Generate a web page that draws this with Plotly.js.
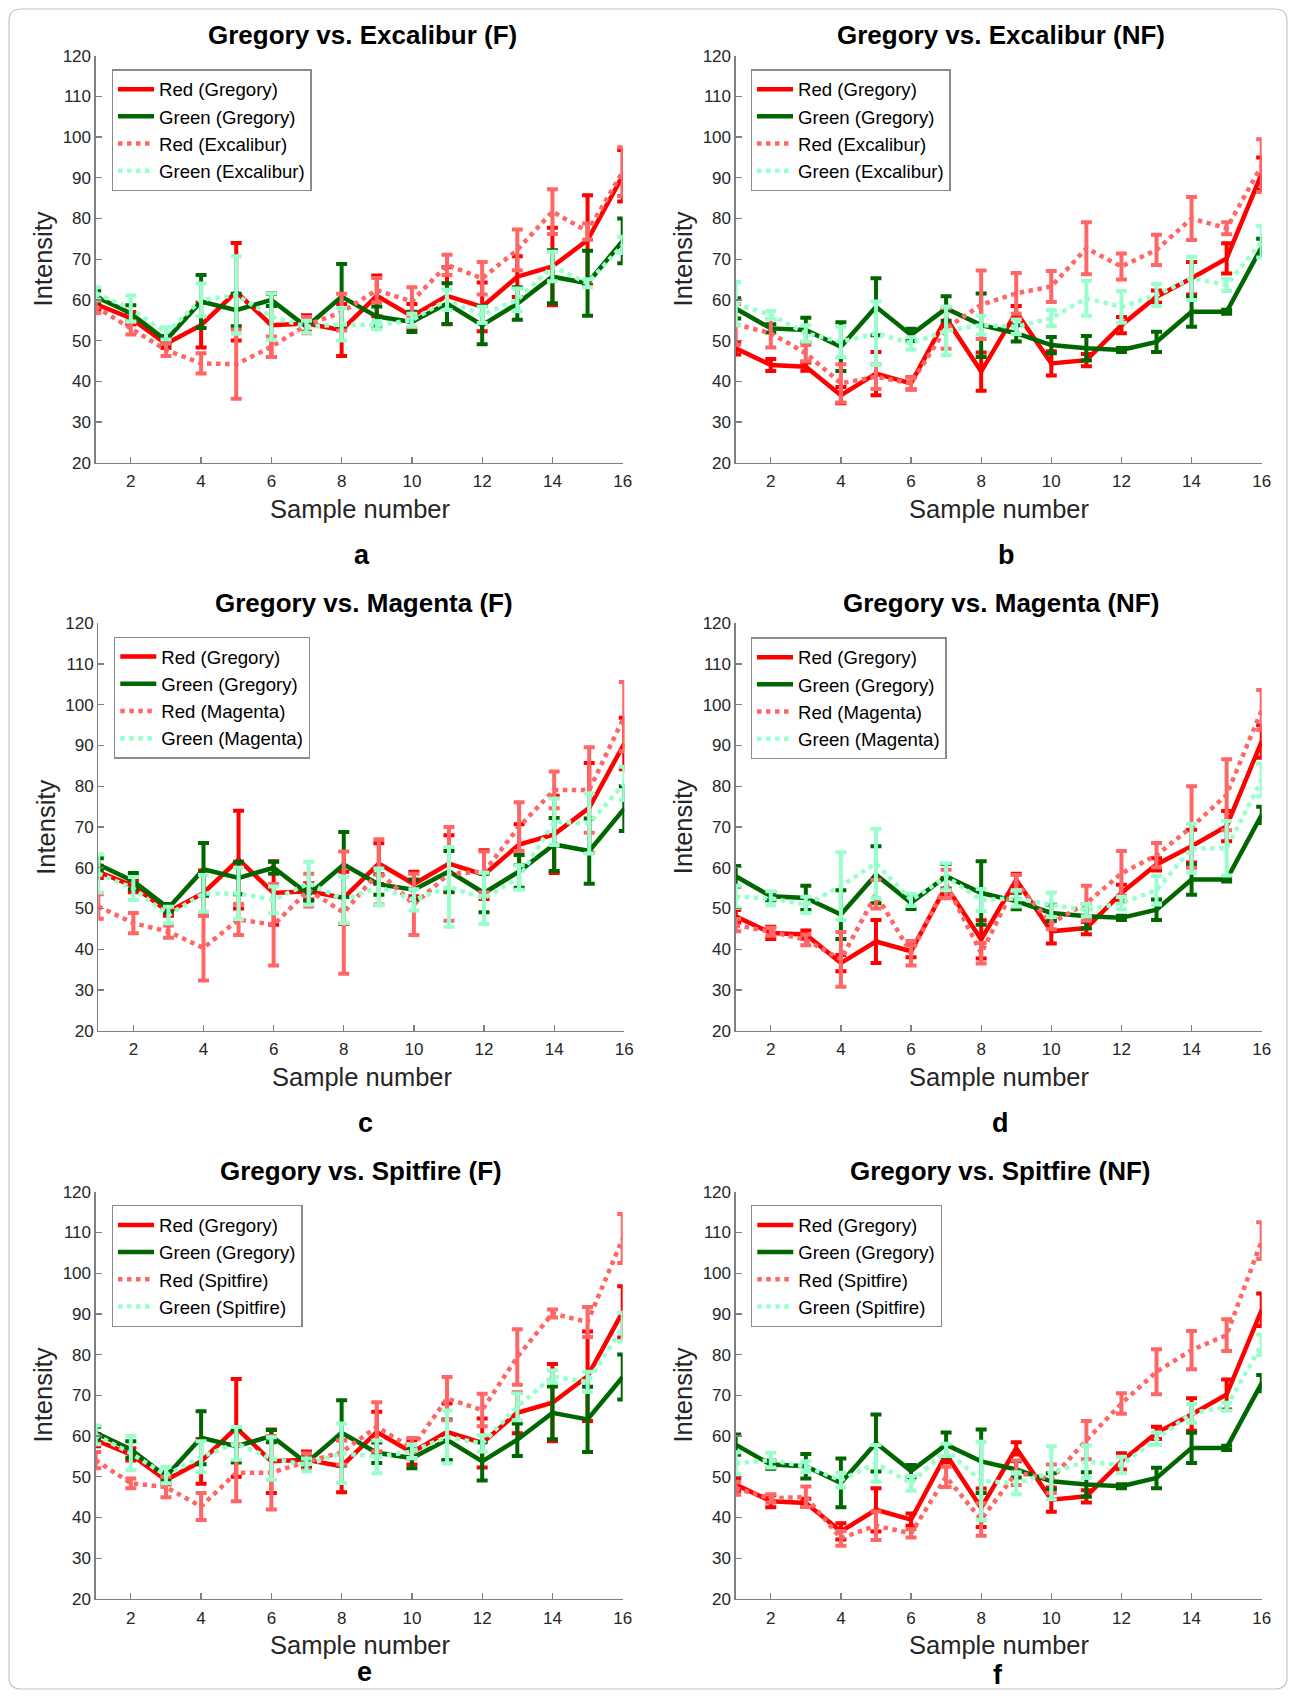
<!DOCTYPE html>
<html>
<head>
<meta charset="utf-8">
<script src="https://cdn.plot.ly/plotly-3.0.1.min.js"></script>
<style>
  html, body { margin: 0; padding: 0; background: #ffffff; }
  #chart { width: 1295px; height: 1696px; }
</style>
</head>
<body>
<div id="chart"></div>
<script>
// Sample numbers shared by every panel
const samples = [1, 2, 3, 4, 5, 6, 7, 8, 9, 10, 11, 12, 13, 14, 15, 16];
const xTicks = [2, 4, 6, 8, 10, 12, 14, 16];
const yTicks = [20, 30, 40, 50, 60, 70, 80, 90, 100, 110, 120];

// Gregory, with filter (F)
const redGregoryF      = [59.0, 55.5, 49.2, 53.8, 62.0, 53.8, 54.2, 52.6, 61.0, 56.0, 61.0, 58.3, 65.7, 68.2, 74.7, 90.5];
const redGregoryFErr   = [1.5, 1.5, 1.0, 5.5, 12.0, 7.8, 2.0, 6.4, 5.0, 3.0, 7.0, 6.0, 5.0, 9.5, 11.0, 6.3];
const greenGregoryF    = [60.8, 56.7, 50.1, 59.6, 57.5, 60.0, 53.4, 60.8, 55.9, 54.6, 59.1, 53.8, 59.1, 65.7, 64.1, 74.5];
const greenGregoryFErr = [1.5, 2.0, 1.0, 6.5, 4.0, 1.5, 1.5, 8.0, 2.5, 2.5, 5.0, 4.7, 4.0, 6.5, 8.0, 5.5];

// Gregory, no filter (NF)
const redGregoryNF      = [48.1, 44.0, 43.6, 36.6, 41.9, 39.5, 55.5, 42.4, 57.0, 44.4, 45.2, 53.8, 60.8, 65.3, 70.2, 91.0];
const redGregoryNFErr   = [1.5, 1.5, 1.0, 2.0, 5.3, 1.5, 2.0, 4.7, 1.5, 3.0, 1.5, 2.0, 1.5, 4.0, 3.7, 4.0];
const greenGregoryNF    = [57.9, 53.0, 52.6, 48.5, 58.3, 51.4, 57.9, 53.8, 51.8, 48.9, 48.1, 47.7, 49.7, 57.1, 57.1, 73.0];
const greenGregoryNFErr = [2.5, 1.0, 3.0, 6.0, 7.0, 1.5, 3.0, 7.8, 2.0, 2.0, 3.0, 0.5, 2.5, 3.7, 0.5, 2.0];

// Excalibur
const redExcaliburF       = [58.3, 53.0, 47.7, 44.4, 44.2, 48.5, 53.8, 57.0, 62.4, 59.6, 68.6, 65.3, 72.3, 81.7, 76.8, 91.5];
const redExcaliburFErr    = [1.5, 1.5, 1.5, 2.5, 8.5, 2.5, 2.0, 4.5, 3.0, 3.5, 2.5, 4.0, 5.0, 5.5, 2.0, 6.0];
const greenExcaliburF     = [61.6, 57.9, 51.8, 60.0, 61.2, 55.9, 53.4, 54.0, 53.8, 55.0, 60.0, 56.3, 60.0, 68.2, 64.1, 73.5];
const greenExcaliburFErr  = [1.5, 3.2, 1.5, 4.0, 9.5, 5.7, 1.5, 4.0, 1.0, 1.6, 2.5, 2.0, 2.8, 3.6, 1.0, 2.0];
const redExcaliburNF      = [54.0, 51.8, 46.9, 39.5, 41.1, 39.5, 53.0, 58.8, 61.6, 63.3, 72.7, 68.2, 72.3, 80.0, 77.6, 93.0];
const redExcaliburNFErr   = [5.0, 3.5, 2.0, 4.7, 3.0, 1.5, 5.0, 8.4, 5.0, 3.8, 6.4, 3.2, 3.7, 5.3, 1.5, 6.5];
const greenExcaliburNF    = [59.1, 56.3, 51.8, 49.7, 51.8, 49.3, 52.4, 53.8, 53.4, 55.5, 60.4, 58.3, 61.2, 65.3, 63.7, 74.3];
const greenExcaliburNFErr = [5.3, 1.0, 2.0, 3.7, 7.8, 1.5, 6.0, 2.3, 1.8, 2.0, 4.3, 3.9, 2.7, 5.3, 1.5, 3.9];

// Magenta
const redMagentaF       = [50.5, 46.4, 44.3, 40.3, 47.3, 46.0, 54.5, 49.0, 59.0, 51.0, 58.5, 59.0, 70.1, 79.1, 79.1, 97.1];
const redMagentaFErr    = [3.0, 2.5, 1.5, 8.0, 3.8, 10.0, 4.0, 15.0, 8.0, 7.5, 11.5, 5.0, 6.0, 4.5, 10.5, 8.5];
const greenMagentaF     = [58.6, 54.9, 48.4, 53.7, 53.7, 52.1, 56.2, 52.1, 55.3, 52.1, 55.3, 52.5, 57.6, 71.3, 70.9, 80.7];
const greenMagentaFErr  = [4.7, 2.8, 2.0, 4.5, 6.3, 3.3, 5.3, 5.7, 4.5, 2.6, 9.8, 6.3, 3.0, 5.7, 7.4, 4.1];
const redMagentaNF      = [45.9, 44.3, 42.3, 37.5, 53.5, 39.0, 56.0, 39.0, 56.2, 46.4, 51.3, 58.6, 63.1, 70.0, 77.9, 98.7];
const redMagentaNFErr   = [1.5, 1.0, 1.3, 6.7, 3.5, 3.0, 3.5, 2.5, 2.0, 1.5, 4.3, 5.5, 3.0, 10.0, 8.7, 4.9];
const greenMagentaNF    = [52.9, 52.5, 50.9, 55.5, 61.1, 52.1, 57.8, 52.1, 52.5, 50.9, 49.6, 51.3, 54.5, 64.8, 64.8, 81.5];
const greenMagentaNFErr = [2.7, 1.7, 2.0, 8.3, 8.5, 1.5, 3.3, 2.7, 2.0, 3.0, 1.5, 1.5, 3.5, 6.0, 6.7, 4.0];

// Spitfire
const redSpitfireF       = [54.1, 48.4, 47.5, 42.7, 51.0, 51.0, 53.7, 56.0, 62.3, 57.0, 69.2, 66.4, 79.4, 90.1, 88.0, 108.5];
const redSpitfireFErr    = [2.0, 1.2, 2.5, 3.3, 7.0, 9.0, 2.0, 3.0, 6.0, 2.5, 5.3, 4.0, 6.8, 1.0, 3.7, 6.0];
const greenSpitfireF     = [60.3, 55.8, 50.4, 54.9, 58.2, 54.5, 52.9, 55.8, 54.9, 56.2, 59.8, 58.2, 67.2, 74.6, 73.3, 86.8];
const greenSpitfireFErr  = [2.3, 4.2, 2.0, 3.8, 4.0, 5.2, 1.6, 7.3, 4.0, 1.6, 6.5, 2.0, 3.3, 1.5, 2.5, 3.5];
const redSpitfireNF      = [47.2, 44.7, 45.1, 34.9, 38.0, 36.1, 50.0, 39.5, 51.0, 49.5, 59.0, 68.0, 75.8, 81.1, 84.8, 108.0];
const redSpitfireNFErr   = [1.6, 1.0, 2.5, 1.8, 3.5, 1.0, 2.5, 4.0, 3.0, 3.5, 4.7, 2.5, 5.5, 4.7, 3.9, 4.5];
const greenSpitfireNF    = [53.3, 54.1, 52.5, 49.2, 53.3, 48.4, 56.6, 49.0, 48.4, 51.0, 53.7, 52.9, 59.4, 65.6, 67.2, 82.4];
const greenSpitfireNFErr = [2.7, 1.8, 1.3, 1.8, 4.5, 1.8, 1.5, 9.6, 2.7, 6.5, 4.0, 2.0, 1.5, 2.3, 1.0, 2.5];

// Page geometry (pixels)
const W = 1295, H = 1696;
const FONT = '"Liberation Sans", Arial, Helvetica, sans-serif';
const C_RED = '#ff0000', C_DKGREEN = '#006600', C_PINK = '#ff6666', C_MINT = '#99ffcc';
const AXIS_GRAY = '#808080', TEXT_GRAY = '#262626';

const px = v => v / W;
const py = v => 1 - v / H;

// Panel layout: plot-area box, legend corner, text anchors
const panels = [
  { title: 'Gregory vs. Excalibur (F)',  letter: 'a', brand: 'Excalibur',
    red: redGregoryF, redErr: redGregoryFErr, green: greenGregoryF, greenErr: greenGregoryFErr,
    bRed: redExcaliburF, bRedErr: redExcaliburFErr, bGreen: greenExcaliburF, bGreenErr: greenExcaliburFErr,
    box: [95.7, 622.7, 55.7, 462.7], leg: [111.7, 69.3], titleX: 362, letterXY: [362.4, 555] },
  { title: 'Gregory vs. Excalibur (NF)', letter: 'b', brand: 'Excalibur',
    red: redGregoryNF, redErr: redGregoryNFErr, green: greenGregoryNF, greenErr: greenGregoryNFErr,
    bRed: redExcaliburNF, bRedErr: redExcaliburNFErr, bGreen: greenExcaliburNF, bGreenErr: greenExcaliburNFErr,
    box: [735.7, 1261.7, 55.7, 462.7], leg: [750.7, 69.3], titleX: 1001, letterXY: [1006, 555] },
  { title: 'Gregory vs. Magenta (F)',    letter: 'c', brand: 'Magenta',
    red: redGregoryF, redErr: redGregoryFErr, green: greenGregoryF, greenErr: greenGregoryFErr,
    bRed: redMagentaF, bRedErr: redMagentaFErr, bGreen: greenMagentaF, bGreenErr: greenMagentaFErr,
    box: [98.3, 624.3, 623.3, 1030.7], leg: [114, 636.7], titleX: 363.5, letterXY: [365.7, 1123] },
  { title: 'Gregory vs. Magenta (NF)',   letter: 'd', brand: 'Magenta',
    red: redGregoryNF, redErr: redGregoryNFErr, green: greenGregoryNF, greenErr: greenGregoryNFErr,
    bRed: redMagentaNF, bRedErr: redMagentaNFErr, bGreen: greenMagentaNF, bGreenErr: greenMagentaNFErr,
    box: [735.7, 1261.7, 623.3, 1030.7], leg: [750.7, 637.3], titleX: 1000.8, letterXY: [1000.7, 1123] },
  { title: 'Gregory vs. Spitfire (F)',   letter: 'e', brand: 'Spitfire',
    red: redGregoryF, redErr: redGregoryFErr, green: greenGregoryF, greenErr: greenGregoryFErr,
    bRed: redSpitfireF, bRedErr: redSpitfireFErr, bGreen: greenSpitfireF, bGreenErr: greenSpitfireFErr,
    box: [95.7, 622.7, 1191.7, 1599], leg: [111.7, 1205], titleX: 361.4, letterXY: [364.6, 1671.5] },
  { title: 'Gregory vs. Spitfire (NF)',  letter: 'f', brand: 'Spitfire',
    red: redGregoryNF, redErr: redGregoryNFErr, green: greenGregoryNF, greenErr: greenGregoryNFErr,
    bRed: redSpitfireNF, bRedErr: redSpitfireNFErr, bGreen: greenSpitfireNF, bGreenErr: greenSpitfireNFErr,
    box: [735.7, 1261.7, 1191.7, 1599], leg: [751, 1205], titleX: 1000.8, letterXY: [997.5, 1674.7] }
];

const traces = [];
const layout = {
  width: W, height: H,
  margin: { l: 0, r: 0, t: 0, b: 0, pad: 0 },
  paper_bgcolor: '#ffffff', plot_bgcolor: '#ffffff',
  font: { family: FONT, color: TEXT_GRAY },
  showlegend: true,
  annotations: [],
  shapes: []
};

function series(name, y, err, color, dash, axisId, legendId) {
  return {
    type: 'scatter', mode: 'lines', name: name,
    x: samples, y: y,
    xaxis: 'x' + axisId, yaxis: 'y' + axisId, legend: legendId,
    line: { color: color, width: 4.5, dash: dash },
    error_y: { type: 'data', array: err, visible: true, color: color, thickness: 4, width: 5.5 },
    hoverinfo: 'x+y+name'
  };
}

panels.forEach((p, i) => {
  const n = i + 1;
  const axisId = n === 1 ? '' : String(n);
  const legendId = n === 1 ? 'legend' : 'legend' + n;
  const [x0, x1, y0, y1] = p.box;

  traces.push(series('Red (Gregory)', p.red, p.redErr, C_RED, 'solid', axisId, legendId));
  traces.push(series('Green (Gregory)', p.green, p.greenErr, C_DKGREEN, 'solid', axisId, legendId));
  traces.push(series('Red (' + p.brand + ')', p.bRed, p.bRedErr, C_PINK, 'dot', axisId, legendId));
  traces.push(series('Green (' + p.brand + ')', p.bGreen, p.bGreenErr, C_MINT, 'dot', axisId, legendId));

  const common = {
    showgrid: false, zeroline: false, showline: true,
    linecolor: AXIS_GRAY, linewidth: 1.3,
    ticks: 'inside', ticklen: 6, tickwidth: 1.3, tickcolor: AXIS_GRAY,
    tickfont: { family: FONT, size: 17, color: TEXT_GRAY },
    fixedrange: true, automargin: false
  };
  layout['xaxis' + axisId] = Object.assign({}, common, {
    domain: [px(x0), px(x1)], range: [1, 16],
    tickmode: 'array', tickvals: xTicks, ticktext: xTicks.map(String),
    ticklabelstandoff: 3,
    anchor: 'y' + axisId
  });
  layout['yaxis' + axisId] = Object.assign({}, common, {
    domain: [py(y1), py(y0)], range: [20, 120],
    tickmode: 'array', tickvals: yTicks, ticktext: yTicks.map(String),
    anchor: 'x' + axisId
  });

  layout[legendId] = {
    x: px(p.leg[0]), y: py(p.leg[1]), xanchor: 'left', yanchor: 'top',
    xref: 'paper', yref: 'paper',
    bgcolor: '#ffffff', bordercolor: '#8a8a8a', borderwidth: 1.3,
    font: { family: FONT, size: 18.6, color: '#000000' },
    itemwidth: 36, tracegroupgap: 0
  };

  const cx = (x0 + x1) / 2;
  // panel title
  layout.annotations.push({
    text: '<b>' + p.title + '</b>', xref: 'paper', yref: 'paper',
    x: px(p.titleX), y: py(y0 - 20.5), xanchor: 'center', yanchor: 'middle',
    showarrow: false, font: { family: FONT, size: 26, color: '#000000' }
  });
  // x axis title
  layout.annotations.push({
    text: 'Sample number', xref: 'paper', yref: 'paper',
    x: px(cx + 1), y: py(y1 + 46), xanchor: 'center', yanchor: 'middle',
    showarrow: false, font: { family: FONT, size: 25.5, color: TEXT_GRAY }
  });
  // y axis title
  layout.annotations.push({
    text: 'Intensity', xref: 'paper', yref: 'paper', textangle: -90,
    x: px(x0 - 52.5), y: py((y0 + y1) / 2), xanchor: 'center', yanchor: 'middle',
    showarrow: false, font: { family: FONT, size: 25.5, color: TEXT_GRAY }
  });
  // panel letter
  layout.annotations.push({
    text: '<b>' + p.letter + '</b>', xref: 'paper', yref: 'paper',
    x: px(p.letterXY[0]), y: py(p.letterXY[1]), xanchor: 'center', yanchor: 'middle',
    showarrow: false, font: { family: FONT, size: 27, color: '#000000' }
  });
});

// rounded frame around the whole figure
(function () {
  const l = 9, r = 1287, t = 9, b = 1689, rad = 12;
  const P = (x, y) => px(x).toFixed(5) + ',' + py(y).toFixed(5);
  const path = 'M' + P(l + rad, t) + ' L' + P(r - rad, t) + ' Q' + P(r, t) + ' ' + P(r, t + rad) +
    ' L' + P(r, b - rad) + ' Q' + P(r, b) + ' ' + P(r - rad, b) +
    ' L' + P(l + rad, b) + ' Q' + P(l, b) + ' ' + P(l, b - rad) +
    ' L' + P(l, t + rad) + ' Q' + P(l, t) + ' ' + P(l + rad, t) + ' Z';
  layout.shapes.push({
    type: 'path', xref: 'paper', yref: 'paper', path: path,
    line: { color: '#c4c4c4', width: 1.2 }, fillcolor: 'rgba(0,0,0,0)', layer: 'below'
  });
})();

Plotly.newPlot('chart', traces, layout, { displayModeBar: false, staticPlot: true });
</script>
</body>
</html>
